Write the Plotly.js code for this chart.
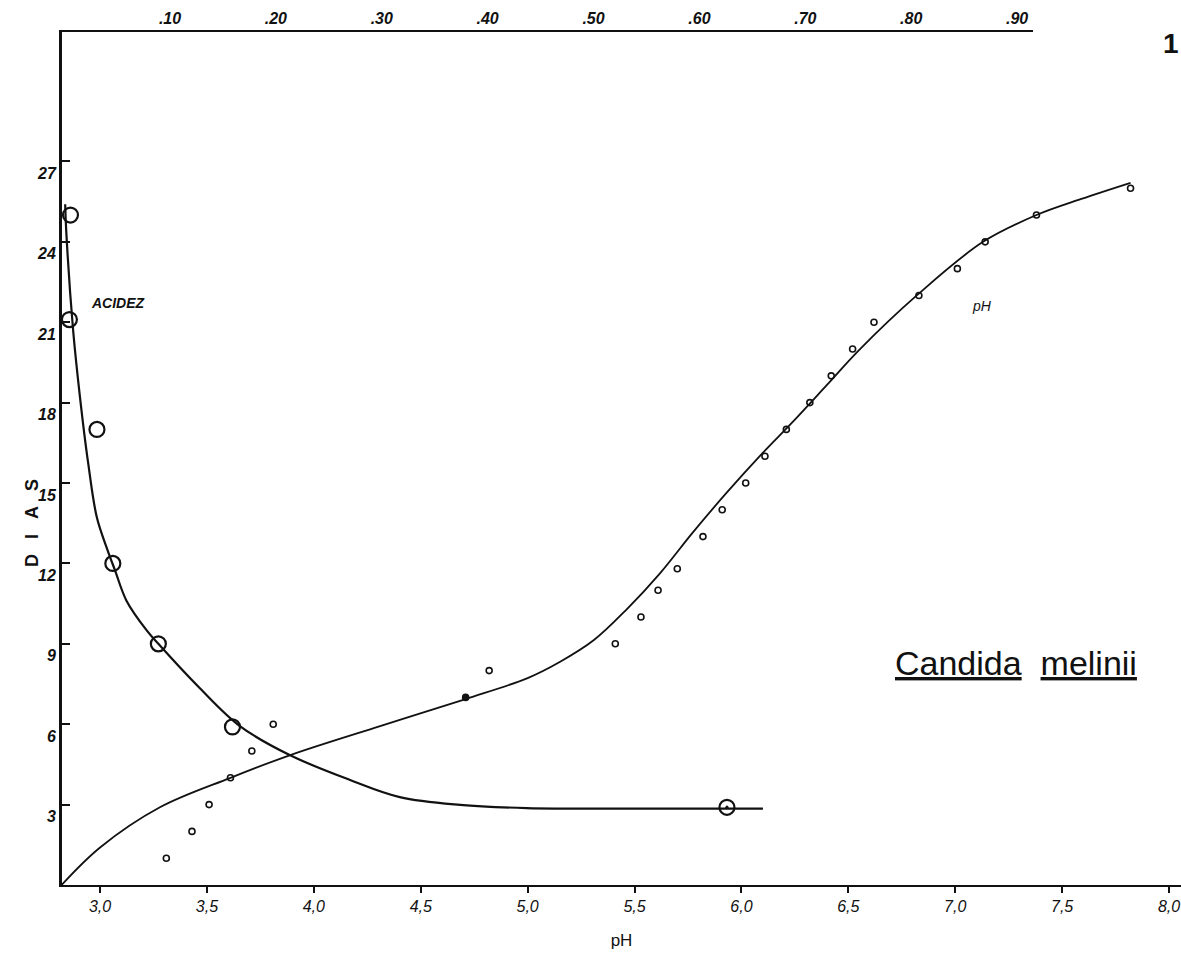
<!DOCTYPE html>
<html><head><meta charset="utf-8">
<script src="https://cdn.plot.ly/plotly-3.0.1.min.js"></script>
<style>html,body{margin:0;padding:0;background:#fff}</style>
</head><body><div id="chart" style="width:1181px;height:960px"></div>
<script>
// Tick values / labels
const phTicks = [3.0, 3.5, 4.0, 4.5, 5.0, 5.5, 6.0, 6.5, 7.0, 7.5, 8.0];
const phTickLabels = ['3,0', '3,5', '4,0', '4,5', '5,0', '5,5', '6,0', '6,5', '7,0', '7,5', '8,0'];
const acidTicks = [0.1, 0.2, 0.3, 0.4, 0.5, 0.6, 0.7, 0.8, 0.9];
const acidTickLabels = ['.10', '.20', '.30', '.40', '.50', '.60', '.70', '.80', '.90'];
const dayTicks = [3, 6, 9, 12, 15, 18, 21, 24, 27];
const dayTickLabels = ['3', '6', '9', '12', '15', '18', '21', '24', '27'];

// Acidez observations (top axis) vs days
const acidezValues = [0.006, 0.005, 0.031, 0.046, 0.089, 0.159, 0.626];
const acidezDays = [25.0, 21.1, 17.0, 12.0, 9.0, 5.9, 2.9];
// Acidez fitted curve
const acidezCurveValues = [0.001, 0.002, 0.0085, 0.015, 0.0227, 0.031, 0.041, 0.048, 0.059, 0.078, 0.089, 0.128, 0.166, 0.213, 0.270, 0.317, 0.374, 0.437, 0.55, 0.660];
const acidezCurveDays = [25.4, 24.4, 20.7, 18.2, 15.75, 13.7, 12.5, 11.75, 10.6, 9.5, 9.0, 7.35, 5.93, 4.85, 3.92, 3.28, 2.99, 2.87, 2.85, 2.85];

// pH observations (bottom axis) vs days
const phValues = [3.31, 3.43, 3.51, 3.61, 3.71, 3.81, 4.71, 4.82, 5.41, 5.53, 5.61, 5.70, 5.82, 5.91, 6.02, 6.11, 6.21, 6.32, 6.42, 6.52, 6.62, 6.83, 7.01, 7.14, 7.38, 7.82];
const phDays = [1, 2, 3, 4, 5, 6, 7, 8, 9, 10, 11, 11.8, 13, 14, 15, 16, 17, 18, 19, 20, 21, 22, 23, 24, 25, 26];
// pH fitted curve
const phCurveValues = [2.82, 3.0, 3.28, 3.61, 3.89, 4.31, 4.71, 5.0, 5.15, 5.31, 5.46, 5.62, 5.77, 5.93, 6.09, 6.24, 6.40, 6.55, 6.82, 7.13, 7.38, 7.59, 7.82];
const phCurveDays = [0, 1.4, 2.9, 4.0, 4.85, 5.93, 6.94, 7.72, 8.32, 9.14, 10.26, 11.64, 13.13, 14.63, 16.04, 17.28, 18.66, 19.96, 22.0, 24.0, 25.0, 25.6, 26.2];

const ink = '#111';
const fam = 'Liberation Sans, Arial, sans-serif';

// marker symbols (style only)
const phSymbols = phValues.map((v, i) => i === 6 ? 'circle' : 'circle-open');
const acidSymbols = acidezValues.map((v, i) => i === acidezValues.length - 1 ? 'circle-open-dot' : 'circle-open');

const traces = [
  {x: phCurveValues, y: phCurveDays, xaxis: 'x', yaxis: 'y', mode: 'lines',
   line: {color: ink, width: 1.8, shape: 'spline', smoothing: 1}, hoverinfo: 'skip', showlegend: false},
  {x: phValues, y: phDays, xaxis: 'x', yaxis: 'y', mode: 'markers', cliponaxis: false,
   marker: {symbol: phSymbols, size: 6, color: ink, line: {width: 1.6, color: ink}}, showlegend: false},
  {x: acidezCurveValues, y: acidezCurveDays, xaxis: 'x2', yaxis: 'y', mode: 'lines',
   line: {color: ink, width: 2.2, shape: 'spline', smoothing: 1}, hoverinfo: 'skip', showlegend: false},
  {x: acidezValues, y: acidezDays, xaxis: 'x2', yaxis: 'y', mode: 'markers', cliponaxis: false,
   marker: {symbol: acidSymbols, size: 15, color: ink, line: {width: 2.2, color: ink}}, showlegend: false}
];

const layout = {
  width: 1181, height: 960,
  margin: {l: 62, r: 0, t: 32, b: 75},
  paper_bgcolor: '#fff', plot_bgcolor: 'rgba(0,0,0,0)',
  font: {family: fam, color: ink},
  showlegend: false,
  xaxis: {
    domain: [0, 1], range: [2.822, 8.056], anchor: 'y',
    tickmode: 'array', tickvals: phTicks, ticktext: phTickLabels,
    showline: true, linecolor: ink, linewidth: 2,
    ticks: 'outside', ticklen: 6, tickwidth: 2, tickcolor: ink,
    showgrid: false, zeroline: false,
    tickfont: {family: fam, size: 16, style: 'italic', color: ink},
    title: {text: 'pH', font: {family: fam, size: 17, color: ink}, standoff: 20}
  },
  xaxis2: {
    domain: [0, 0.8677], range: [-0.002, 0.915], anchor: 'y', side: 'top',
    tickmode: 'array', tickvals: acidTicks, ticktext: acidTickLabels,
    showline: true, linecolor: ink, linewidth: 2, ticks: '',
    showgrid: false, zeroline: false,
    tickfont: {family: fam, size: 16, style: 'italic', weight: 'bold', color: ink}
  },
  yaxis: {
    domain: [0, 1], range: [0, 31.83], anchor: 'x',
    tickmode: 'array', tickvals: dayTicks, ticktext: dayTickLabels,
    showline: true, linecolor: ink, linewidth: 3,
    ticks: 'inside', ticklen: 8, tickwidth: 2, tickcolor: ink,
    ticklabelshift: 12,
    showgrid: false, zeroline: false,
    tickfont: {family: fam, size: 16, style: 'italic', weight: 'bold', color: ink}
  },
  annotations: [
    {xref: 'paper', yref: 'paper', x: -0.0375, y: 0.4244, textangle: -90, showarrow: false,
     text: 'D\u00A0\u00A0\u00A0I\u00A0\u00A0\u00A0A\u00A0\u00A0\u00A0S', font: {family: fam, size: 18, weight: 'bold', color: ink}},
    {xref: 'x2', yref: 'y', x: 0.051, y: 21.7, showarrow: false, text: 'ACIDEZ',
     font: {family: fam, size: 14, style: 'italic', weight: 'bold', color: ink}},
    {xref: 'x', yref: 'y', x: 7.125, y: 21.6, showarrow: false, text: 'pH',
     font: {family: fam, size: 14, style: 'italic', color: ink}},
    {xref: 'x', yref: 'y', x: 7.284, y: 8.28, showarrow: false,
     text: '<u>Candida</u>\u00A0\u00A0<u>melinii</u>',
     font: {family: fam, size: 34, color: ink}},
    {xref: 'paper', yref: 'paper', x: 1.0, y: 0.986, xanchor: 'right', yanchor: 'middle', showarrow: false,
     text: '1', font: {family: fam, size: 28, weight: 'bold', color: ink}}
  ]
};

Plotly.newPlot('chart', traces, layout, {displayModeBar: false, staticPlot: true});
</script>
</body></html>
